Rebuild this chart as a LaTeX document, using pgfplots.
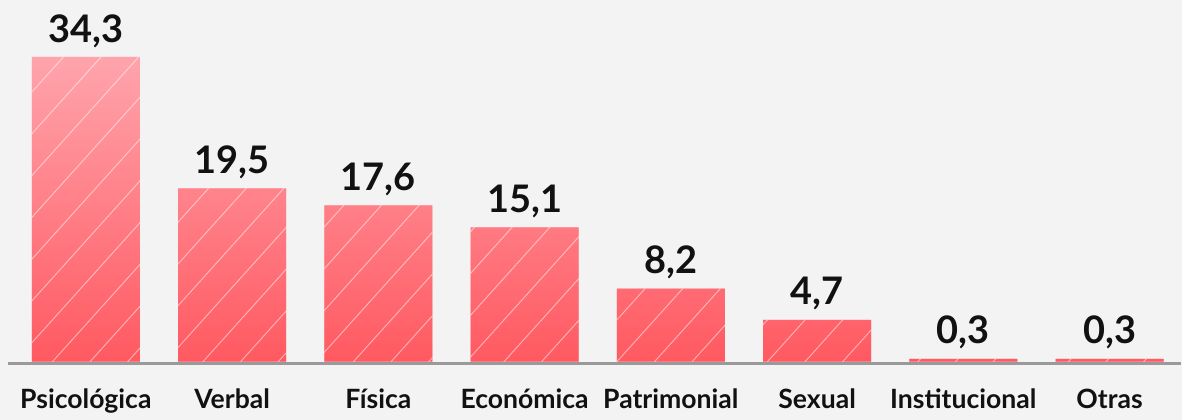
\documentclass[border=0pt]{standalone}
\usepackage{pgfplots}
\pgfplotsset{compat=1.18}
\usepackage{fontspec}
\setmainfont{Lato}
\usetikzlibrary{patterns.meta}
\definecolor{bgc}{HTML}{F3F3F3}
\definecolor{bartop}{HTML}{FFA4AC}
\definecolor{barbot}{HTML}{FF5961}
\definecolor{basec}{HTML}{9A9A9A}
\definecolor{txt}{HTML}{111111}
\pagecolor{bgc}
\begin{document}
\begin{tikzpicture}
  \begin{axis}[
      scale only axis, width=591pt, height=181pt,
      xmin=-0.587, xmax=7.485, ymin=0, ymax=40.72,
      axis lines=none, clip=false,
      xtick=data,
      ytick=\empty,
      ybar, bar width=54pt,
      /pgf/number format/assume math mode=true,
      nodes near coords={\pgfmathprintnumber[fixed,fixed zerofill,precision=1,use comma]{\pgfplotspointmeta}},
      every node near coord/.append style={anchor=base, yshift=7.5pt, font=\fontsize{19}{21}\selectfont\bfseries, text=txt},
    ]
    \addplot[draw=none, top color=bartop, bottom color=barbot,
      postaction={pattern={Lines[angle=48, distance=14pt, line width=0.5pt]}, pattern color=white, fill opacity=0.5}]
      coordinates {(0,34.3) (1,19.5) (2,17.6) (3,15.1) (4,8.2) (5,4.7) (6,0.3) (7,0.3)};
    \draw[basec, line width=1.5pt] ([yshift=-0.75pt]axis cs:-0.533,0) -- ([yshift=-0.75pt]axis cs:7.485,0);
    \foreach \i/\lab in {0/Psicológica,1/Verbal,2/Física,3/Económica,4/Patrimonial,5/Sexual,6/Institucional,7/Otras}{
      \edef\tmp{\noexpand\node[anchor=base, font=\noexpand\fontsize{13.3}{15}\noexpand\selectfont\noexpand\bfseries, text=txt] at (axis cs:\i,0) [yshift=-23.5pt] {\lab};}
      \tmp
    }
    \path (rel axis cs:0,0) ++(0,-26.5pt);
    \path (rel axis cs:0,1);
  \end{axis}
\end{tikzpicture}
\end{document}
